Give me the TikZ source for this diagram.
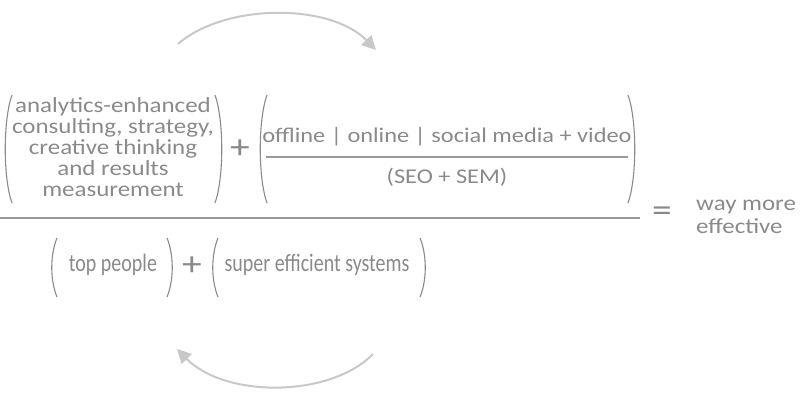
\documentclass[tikz,border=0pt]{standalone}
\usepackage{fontspec}
\usetikzlibrary{arrows.meta}
\newfontfamily\eqfont[FakeStretch=1.16]{Carlito}
\newfontfamily\eqnarrow[FakeStretch=0.80]{Carlito}
\definecolor{inkgray}{HTML}{8A8A8A}
\definecolor{arrowgray}{HTML}{C8C8C8}
\definecolor{bargray}{HTML}{999999}
\begin{document}
\begin{tikzpicture}[x=1pt,y=-1pt,
  txt/.style={inner sep=0pt, text=inkgray, font=\eqfont\fontsize{21.5}{21}\selectfont},
  lowtxt/.style={inner sep=0pt, text=inkgray, font=\eqnarrow\fontsize{25}{25}\selectfont},
  plus/.style={inner sep=0pt, text=inkgray, font=\eqfont\fontsize{34}{34}\selectfont},
  paren/.style={draw=inkgray, line width=1.1pt},
  bar/.style={draw=bargray, line width=1.8pt},
  cycle/.style={draw=arrowgray, line width=2pt, -{Triangle[length=14pt,width=14pt]}}]
\useasboundingbox (0,0) rectangle (802,396);

% numerator, first group
\node[txt, align=center] (ideas) at (113,147) {analytics-enhanced\\consulting, strategy,\\creative thinking\\and results\\measurement};
\draw[paren] (12,95) .. controls (3,120) and (3,178) .. (12,203);
\draw[paren] (215,95) .. controls (224,120) and (224,178) .. (215,203);
\node[plus] (plusA) at (240,149) {+};

% numerator, second group
\node[txt, font=\eqfont\fontsize{21}{21}\selectfont] (media) at (447,137) {offline | online | social media + video};
\node[txt, font=\eqfont\fontsize{21}{21}\selectfont] (search) at (447,177) {(SEO + SEM)};
\draw[bar, line width=1.1pt] (266,157) -- (628,157);
\draw[paren] (267,95) .. controls (258,120) and (258,178) .. (267,203);
\draw[paren] (628,95) .. controls (637,120) and (637,178) .. (628,203);

% main fraction bar
\coordinate (barL) at (0,218);
\coordinate (barR) at (640,218);
\draw[bar] (barL) -- (barR);

% denominator
\node[lowtxt] (people) at (113,265) {top people};
\node[lowtxt] (systems) at (317,265) {super efficient systems};
\node[plus] (plusB) at (192,266) {+};
\draw[paren] (57,238) .. controls (50,255) and (50,280) .. (57,297);
\draw[paren] (167,238) .. controls (174,255) and (174,280) .. (167,297);
\draw[paren] (218,238) .. controls (211,255) and (211,280) .. (218,297);
\draw[paren] (420,238) .. controls (427,255) and (427,280) .. (420,297);

% result
\node[plus] (eq) at (662,214) {=};
\node[txt, align=left, anchor=west, font=\eqfont\fontsize{21.5}{23}\selectfont] (result) at (696,217) {way more\\effective};

% cycle arrows
\coordinate (topS) at (178,44);
\coordinate (topE) at (376,50);
\coordinate (botS) at (373,354);
\coordinate (botE) at (177,349);
\draw[cycle] (topS) .. controls (225,3) and (330,3) .. (topE);
\draw[cycle] (botS) .. controls (330,398) and (225,398) .. (botE);
\end{tikzpicture}
\end{document}
